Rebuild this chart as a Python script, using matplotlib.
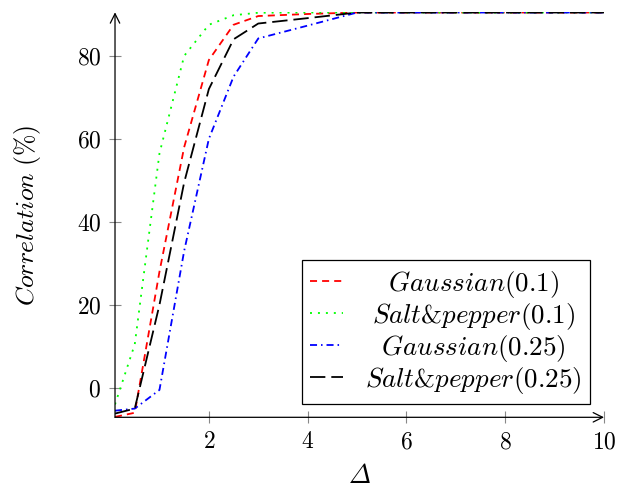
import matplotlib
matplotlib.use("Agg")
import matplotlib.pyplot as plt

plt.rcParams["font.family"] = "serif"
plt.rcParams["font.serif"] = ["cmr10", "DejaVu Serif"]
plt.rcParams["mathtext.fontset"] = "cm"
plt.rcParams["axes.formatter.use_mathtext"] = True
plt.rcParams["font.size"] = 17

# values
delta = [0.1, 0.5, 1.0, 1.5, 2.0, 2.5, 3.0, 4.0, 5.0, 6.0, 7.0, 8.0, 9.0, 10.0]
gauss_01 = [-7.0, -6.0, 28.0, 58.0, 79.0, 87.5, 89.6, 90.1, 90.45, 90.45, 90.45, 90.45, 90.45, 90.45]
salt_01 = [-4.0, 10.5, 56.5, 80.0, 87.5, 89.8, 90.4, 90.45, 90.45, 90.45, 90.45, 90.45, 90.45, 90.45]
gauss_025 = [-5.5, -5.0, -0.5, 33.0, 60.0, 75.0, 84.2, 87.3, 90.45, 90.45, 90.45, 90.45, 90.45, 90.45]
salt_025 = [-6.2, -5.0, 20.0, 49.5, 72.0, 84.0, 87.8, 89.1, 90.45, 90.45, 90.45, 90.45, 90.45, 90.45]

labels = [r"$Gaussian(0.1)$", r"$Salt$&$pepper(0.1)$",
          r"$Gaussian(0.25)$", r"$Salt$&$pepper(0.25)$"]

fig = plt.figure(figsize=(6.19, 4.87), dpi=100)
ax = fig.add_axes([0.1858, 0.1431, 0.79, 0.8316])

lw = 1.3
ax.plot(delta, gauss_01, color="red", lw=lw, dashes=(3.9, 2.8), label=labels[0])
ax.plot(delta, salt_01, color="#00ff00", lw=lw, dashes=(1.1, 3.3), label=labels[1])
ax.plot(delta, gauss_025, color="blue", lw=lw, dashes=(3.9, 2.2, 0.85, 2.2), label=labels[2])
ax.plot(delta, salt_025, color="black", lw=lw, dashes=(8.5, 3.3), label=labels[3])

ax.set_xlim(0.1, 10)
ax.set_ylim(-7.1, 90.5)
ax.set_xticks([2, 4, 6, 8, 10])
ax.set_yticks([0, 20, 40, 60, 80])
ax.tick_params(direction="inout", length=8, width=0.8, color="#888888", pad=6)

for side in ["top", "right", "left", "bottom"]:
    ax.spines[side].set_visible(False)
arrow = dict(arrowstyle="->", color="black", lw=0.9, shrinkA=0, shrinkB=0)
ax.annotate("", xy=(1, 0), xytext=(0, 0), xycoords="axes fraction",
            textcoords="axes fraction", arrowprops=arrow, annotation_clip=False)
ax.annotate("", xy=(0, 1), xytext=(0, 0), xycoords="axes fraction",
            textcoords="axes fraction", arrowprops=arrow, annotation_clip=False)

# italic capital delta from the bundled cmmi10 font (BaKoMa slot 0xa2)
ax.set_xlabel("\u00a2", family="cmmi10", fontsize=19, labelpad=8)
ax.set_ylabel(r"$Correlation\ (\%)$", fontsize=18.5, labelpad=24)

leg = ax.legend(loc="lower right", bbox_to_anchor=(0.971, 0.033), fancybox=False,
                edgecolor="black", framealpha=1, handlelength=1.25, handletextpad=0.8,
                labelspacing=0.04, borderpad=0.3, borderaxespad=0, fontsize=19.5)
leg.get_frame().set_linewidth(0.9)

# centre the legend texts like pgfplots does
fig.canvas.draw()
renderer = fig.canvas.get_renderer()
texts = leg.get_texts()
widths = [t.get_window_extent(renderer).width * 72 / fig.dpi for t in texts]
wmax = max(widths)
base = 0.8 * 19.5
try:
    rows = []
    for col in leg._legend_handle_box.get_children():
        rows.extend(col.get_children())
    for row, w in zip(rows, widths):
        row.sep = base + (wmax - w) / 2
except Exception:
    pass

fig.savefig("out.png", dpi=100)
